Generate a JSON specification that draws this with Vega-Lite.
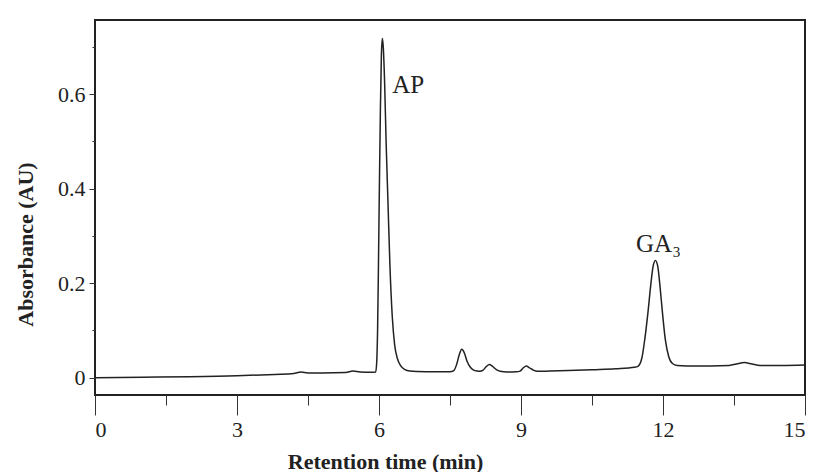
{
  "$schema": "https://vega.github.io/schema/vega-lite/v6.json",
  "width": 710,
  "height": 375,
  "autosize": "none",
  "padding": {"left": 95, "top": 20, "right": 9, "bottom": 77},
  "background": "white",
  "config": {
    "view": {"stroke": "#222", "strokeWidth": 2},
    "font": "Liberation Serif",
    "axis": {"labelFont": "Liberation Serif", "titleFont": "Liberation Serif", "labelColor": "#222", "titleColor": "#222", "tickColor": "#333", "grid": false, "domain": false}
  },
  "datasets": {
    "trace": [
      {"t": 0, "a": 0}, {"t": 1, "a": 0.001}, {"t": 2, "a": 0.002}, {"t": 3, "a": 0.004},
      {"t": 3.8, "a": 0.007}, {"t": 4.2, "a": 0.009}, {"t": 4.35, "a": 0.012}, {"t": 4.5, "a": 0.01},
      {"t": 4.8, "a": 0.01}, {"t": 5.3, "a": 0.011}, {"t": 5.45, "a": 0.014}, {"t": 5.6, "a": 0.012},
      {"t": 5.85, "a": 0.0115}, {"t": 5.93, "a": 0.012}, {"t": 5.95, "a": 0.03}, {"t": 5.97, "a": 0.1},
      {"t": 5.99, "a": 0.25}, {"t": 6.01, "a": 0.42}, {"t": 6.03, "a": 0.57}, {"t": 6.05, "a": 0.68},
      {"t": 6.07, "a": 0.718}, {"t": 6.09, "a": 0.70}, {"t": 6.12, "a": 0.62}, {"t": 6.15, "a": 0.5},
      {"t": 6.19, "a": 0.37}, {"t": 6.23, "a": 0.24}, {"t": 6.28, "a": 0.13}, {"t": 6.33, "a": 0.07},
      {"t": 6.39, "a": 0.04}, {"t": 6.46, "a": 0.025}, {"t": 6.55, "a": 0.017}, {"t": 6.65, "a": 0.014},
      {"t": 6.8, "a": 0.013}, {"t": 7.2, "a": 0.0125}, {"t": 7.5, "a": 0.0125}, {"t": 7.58, "a": 0.015},
      {"t": 7.64, "a": 0.028}, {"t": 7.7, "a": 0.05}, {"t": 7.75, "a": 0.06}, {"t": 7.8, "a": 0.053},
      {"t": 7.86, "a": 0.035}, {"t": 7.93, "a": 0.022}, {"t": 8.0, "a": 0.016}, {"t": 8.08, "a": 0.014},
      {"t": 8.13, "a": 0.0135}, {"t": 8.2, "a": 0.016}, {"t": 8.27, "a": 0.024}, {"t": 8.33, "a": 0.028},
      {"t": 8.4, "a": 0.024}, {"t": 8.48, "a": 0.017}, {"t": 8.56, "a": 0.0135}, {"t": 8.7, "a": 0.012},
      {"t": 8.9, "a": 0.0125}, {"t": 8.98, "a": 0.014}, {"t": 9.05, "a": 0.021}, {"t": 9.11, "a": 0.025},
      {"t": 9.18, "a": 0.021}, {"t": 9.26, "a": 0.016}, {"t": 9.35, "a": 0.0135}, {"t": 9.6, "a": 0.014},
      {"t": 10, "a": 0.015}, {"t": 10.5, "a": 0.017}, {"t": 11, "a": 0.019}, {"t": 11.4, "a": 0.022},
      {"t": 11.47, "a": 0.024}, {"t": 11.55, "a": 0.04}, {"t": 11.62, "a": 0.085}, {"t": 11.68, "a": 0.136},
      {"t": 11.74, "a": 0.195}, {"t": 11.79, "a": 0.235}, {"t": 11.84, "a": 0.248}, {"t": 11.89, "a": 0.235},
      {"t": 11.94, "a": 0.19}, {"t": 11.99, "a": 0.136}, {"t": 12.05, "a": 0.08}, {"t": 12.12, "a": 0.045},
      {"t": 12.2, "a": 0.03}, {"t": 12.3, "a": 0.026}, {"t": 12.5, "a": 0.025}, {"t": 13, "a": 0.025},
      {"t": 13.4, "a": 0.026}, {"t": 13.55, "a": 0.029}, {"t": 13.72, "a": 0.032}, {"t": 13.88, "a": 0.029},
      {"t": 14.05, "a": 0.026}, {"t": 14.5, "a": 0.026}, {"t": 15, "a": 0.027}
    ],
    "labels": [
      {"label": "AP", "t": 6.28, "a": 0.603},
      {"label": "GA₃", "t": 11.43, "a": 0.267}
    ]
  },
  "layer": [
    {
      "data": {"name": "trace"},
      "mark": {"type": "line", "interpolate": "monotone", "color": "#222", "strokeWidth": 1.5},
      "encoding": {
        "x": {"field": "t", "type": "quantitative",
          "scale": {"domain": [0, 15], "nice": false, "zero": false},
          "axis": {"orient": "bottom", "values": [0, 3, 6, 9, 12, 15], "tickSize": 20, "tickWidth": 1, "labelFontSize": 22, "labelPadding": 4,
            "title": "Retention time (min)", "titleFontSize": 22, "titleFontWeight": "bold", "titleX": 290, "titleY": 73, "titleBaseline": "alphabetic", "titleAnchor": "middle"}},
        "y": {"field": "a", "type": "quantitative",
          "scale": {"domain": [-0.0366, 0.757], "nice": false, "zero": false},
          "axis": {"orient": "left", "values": [0, 0.2, 0.4, 0.6], "format": ".1~f", "tickSize": 6, "tickWidth": 1, "labelFontSize": 22, "labelPadding": 4,
            "title": "Absorbance (AU)", "titleFontSize": 22, "titleFontWeight": "bold", "titleX": -63, "titleY": 224, "titleBaseline": "alphabetic", "titleAngle": -90, "titleAlign": "center"}}
      }
    },
    {
      "data": {"name": "trace"},
      "mark": {"type": "line", "opacity": 0},
      "encoding": {
        "x": {"field": "t", "type": "quantitative",
          "axis": {"orient": "bottom", "values": [1.5, 4.5, 7.5, 10.5, 13.5], "tickSize": 10, "tickWidth": 1, "labels": false, "title": null}},
        "y": {"field": "a", "type": "quantitative",
          "axis": {"orient": "left", "values": [0.1, 0.3, 0.5, 0.7], "tickSize": 3, "tickWidth": 1, "labels": false, "title": null}}
      }
    },
    {
      "data": {"name": "labels"},
      "mark": {"type": "text", "align": "left", "baseline": "alphabetic", "fontSize": 25, "font": "Liberation Serif", "color": "#222"},
      "encoding": {
        "x": {"field": "t", "type": "quantitative", "axis": null},
        "y": {"field": "a", "type": "quantitative", "axis": null},
        "text": {"field": "label"}
      }
    }
  ],
  "resolve": {"scale": {"x": "shared", "y": "shared"}, "axis": {"x": "independent", "y": "independent"}}
}
